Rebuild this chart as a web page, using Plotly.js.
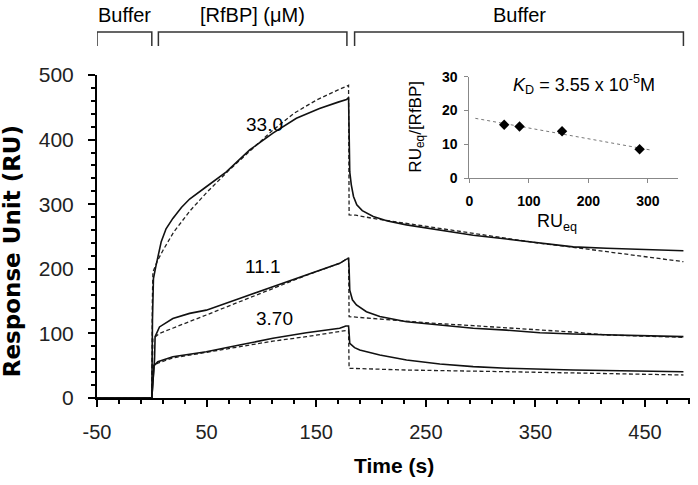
<!DOCTYPE html>
<html>
<head>
<meta charset="utf-8">
<script src="https://cdn.plot.ly/plotly-3.0.1.min.js"></script>
<style>html,body{margin:0;padding:0;background:#fff;}#chart{width:698px;height:485px;}</style>
</head>
<body>
<div id="chart"></div>
<script>
// ---- Sensorgram data (time in s, response in RU) ----
const t33_obs = [-50, 0, 0.6, 1.5, 3.6, 8.6, 13, 19.2, 27, 34.5, 49.7, 68, 89.3, 110.5, 131.9, 153, 170, 177.6, 179.5, 180, 180.6, 182, 184, 187, 192, 202, 215, 232.4, 262.8, 293.2, 323.7, 354, 384.5, 414.9, 445.4, 485];
const v33_obs = [0, 0, 120, 185, 203, 242, 262, 278, 295, 308, 327, 350, 384, 410, 433, 448, 458, 462, 465, 430, 350, 330, 312, 299, 290, 281, 274, 268, 260, 252, 246, 239.5, 234, 231.7, 230, 228];
const t33_fit = [-50, 0, 0.5, 1, 5, 10, 20, 35, 50, 70, 90, 110, 130, 150, 170, 179.5, 180, 186, 201.9, 232.4, 262.8, 293.2, 323.7, 354, 384.5, 414.9, 445.4, 485];
const v33_fit = [0, 0, 150, 195, 212, 228, 257, 290, 318, 352, 383, 414, 441, 461, 477, 484, 283.3, 283, 278, 270.4, 262.7, 255, 247.2, 239.5, 233.3, 226.5, 218.7, 211];

const t11_obs = [-50, 0, 2.5, 3, 7, 19.2, 34.5, 49.7, 80, 110.5, 141, 171.4, 177.6, 179.5, 180, 180.6, 183, 186.7, 195.8, 208, 232.4, 262.8, 293.2, 323.7, 354, 384.5, 414.9, 485];
const v11_obs = [0, 0, 60, 95, 110, 123, 131, 136, 154, 172, 190, 208.5, 215, 216, 200, 167, 152, 144, 133.6, 126, 118, 113, 108, 105, 101, 99, 97.5, 95];
const t11_fit = [-50, 0, 1, 7, 19, 34.5, 49.7, 80, 110.5, 141, 171.4, 179.5, 180, 201.9, 232.4, 262.8, 293.2, 323.7, 354, 384.5, 414.9, 445.4, 485];
const v11_fit = [0, 0, 92, 100, 108, 118, 128.5, 149, 170, 190, 208.5, 217, 126, 123, 119, 115, 112, 109, 106, 102, 97.5, 96, 94];

const t37_obs = [-50, 0, 2, 5.5, 19.2, 49.7, 80, 110.5, 141, 171.4, 177, 179.5, 180, 180.6, 185, 189.7, 208, 232.4, 262.8, 293.2, 323.7, 384.5, 485];
const v37_obs = [0, 0, 50, 56, 64, 71.7, 82, 92.4, 101, 108, 111.5, 111.5, 100, 84.7, 78, 74.3, 66.6, 58.8, 52.6, 48.5, 46, 43.3, 40.7];
const t37_fit = [-50, 0, 1, 5.5, 19.2, 49.7, 80, 110.5, 141, 171.4, 179.5, 180, 232.4, 323.7, 384.5, 485];
const v37_fit = [0, 0, 50, 54, 62, 71, 80, 88, 95, 102.6, 105, 46, 43.3, 40.7, 39.2, 35.6];

// concentration labels (µM)
const concLabels = ["33.0", "11.1", "3.70"];
const concLabelT = [103, 101.4, 112];
const concLabelV = [423, 203, 123];

// x tick labels (hyphen minus as in the original)
const xTickVals = [-50, 50, 150, 250, 350, 450];
const xTickText = ["-50", "50", "150", "250", "350", "450"];

// phases
const phaseNames = ["Buffer", "[RfBP] (\u03bcM)", "Buffer"];
const phaseStart = [-50, 6, 185];
const phaseEnd = [0, 178, 485];

// ---- Scatchard inset ----
const ruEq = [58.5, 84.3, 155.8, 286.2];
const ruEqOverConc = [15.8, 15.3, 13.9, 8.6];
const trendX = [10, 305];
const trendY = [17.7, 8.35];

const FONT = "Liberation Sans, Arial, Helvetica, sans-serif";
const obsLine = {color: "#111", width: 1.6};
const fitLine = {color: "#222", width: 1.3, dash: "4px,2.5px"};

const traces = [];
[[t33_fit, v33_fit, fitLine], [t11_fit, v11_fit, fitLine], [t37_fit, v37_fit, fitLine],
 [t33_obs, v33_obs, obsLine], [t11_obs, v11_obs, obsLine], [t37_obs, v37_obs, obsLine]].forEach(([x, y, ln]) => {
  traces.push({x: x, y: y, type: "scatter", mode: "lines", line: ln, xaxis: "x", yaxis: "y", hoverinfo: "skip", showlegend: false});
});
traces.push({x: trendX, y: trendY, type: "scatter", mode: "lines", line: {color: "#777", width: 1, dash: "dot"}, xaxis: "x2", yaxis: "y2", showlegend: false});
traces.push({x: ruEq, y: ruEqOverConc, type: "scatter", mode: "markers", marker: {symbol: "diamond", size: 8, color: "#000"}, xaxis: "x2", yaxis: "y2", showlegend: false});

const annotations = [];
concLabels.forEach((s, i) => annotations.push({x: concLabelT[i], y: concLabelV[i], xref: "x", yref: "y", text: s, showarrow: false, xanchor: "center", yanchor: "middle", font: {family: FONT, size: 19, color: "#000"}}));
phaseNames.forEach((s, i) => annotations.push({x: (phaseStart[i] + phaseEnd[i]) / 2, y: 1.187, xref: "x", yref: "paper", text: s, showarrow: false, xanchor: "center", yanchor: "middle", font: {family: FONT, size: 20, color: "#000"}}));
annotations.push({x: 0.5, y: -0.21, xref: "paper", yref: "paper", text: "<b>Time (s)</b>", showarrow: false, xanchor: "center", yanchor: "middle", font: {family: FONT, size: 21, color: "#000"}});
annotations.push({x: -0.143, y: 0.455, xref: "paper", yref: "paper", text: "<b>Response Unit (RU)</b>", textangle: -90, showarrow: false, xanchor: "center", yanchor: "middle", font: {family: "DejaVu Sans, Liberation Sans, Arial, sans-serif", size: 23, color: "#000"}});
annotations.push({x: 0.821, y: 0.972, xref: "paper", yref: "paper", text: "<i>K</i><sub>D</sub> = 3.55 x 10<sup>-5</sup>M", showarrow: false, xanchor: "center", yanchor: "middle", font: {family: FONT, size: 18, color: "#000"}});
annotations.push({x: 0.775, y: 0.542, xref: "paper", yref: "paper", text: "RU<sub>eq</sub>", showarrow: false, xanchor: "center", yanchor: "middle", font: {family: FONT, size: 18, color: "#000"}});
annotations.push({x: 0.539, y: 0.839, xref: "paper", yref: "paper", text: "RU<sub>eq</sub>/[RfBP]", textangle: -90, showarrow: false, xanchor: "center", yanchor: "middle", font: {family: FONT, size: 17, color: "#000"}});

const shapes = phaseStart.map((s, i) => ({
  type: "path", xref: "x", yref: "paper",
  path: `M ${s},1.090 L ${s},1.133 L ${phaseEnd[i]},1.133 L ${phaseEnd[i]},1.090`,
  line: {color: "#333", width: 1.5}
}));

const layout = {
  width: 698, height: 485,
  margin: {l: 97, r: 8, t: 75, b: 87, pad: 0},
  paper_bgcolor: "#fff", plot_bgcolor: "rgba(0,0,0,0)",
  font: {family: FONT, color: "#000"},
  showlegend: false,
  xaxis: {
    range: [-50, 491], domain: [0, 1], anchor: "y", tickmode: "array", tickvals: xTickVals, ticktext: xTickText,
    ticks: "outside", ticklen: 7, tickwidth: 2, tickcolor: "#000",
    showline: true, linewidth: 2, linecolor: "#000", showgrid: false, zeroline: false,
    tickfont: {family: FONT, size: 20, color: "#222"}, ticklabelstandoff: 8,
    minor: {dtick: 20, tick0: -50, ticks: "outside", ticklen: 4, tickwidth: 2, tickcolor: "#000", showgrid: false}
  },
  yaxis: {
    range: [0, 500], domain: [0, 1], anchor: "x", tick0: 0, dtick: 100,
    ticks: "outside", ticklen: 7, tickwidth: 2, tickcolor: "#000",
    showline: true, linewidth: 2, linecolor: "#000", showgrid: false, zeroline: false,
    tickfont: {family: FONT, size: 21, color: "#222"}, ticklabelstandoff: 10,
    minor: {dtick: 20, ticks: "outside", ticklen: 4, tickwidth: 2, tickcolor: "#000", showgrid: false}
  },
  xaxis2: {
    range: [0, 350], domain: [0.628, 0.979], anchor: "y2", tick0: 0, dtick: 100,
    ticks: "outside", ticklen: 4, tickwidth: 1, tickcolor: "#888",
    showline: true, linewidth: 1, linecolor: "#888", showgrid: false, zeroline: false,
    tickfont: {family: FONT, size: 14, color: "#000", weight: "bold"}, ticklabelstandoff: 6
  },
  yaxis2: {
    range: [0, 30], domain: [0.680, 0.995], anchor: "x2", tick0: 0, dtick: 10,
    ticks: "outside", ticklen: 4, tickwidth: 1, tickcolor: "#888",
    showline: true, linewidth: 1, linecolor: "#888", showgrid: false, zeroline: false,
    tickfont: {family: FONT, size: 14, color: "#000", weight: "bold"}, ticklabelstandoff: 4
  },
  annotations: annotations,
  shapes: shapes
};

Plotly.newPlot("chart", traces, layout, {displayModeBar: false, staticPlot: true});
</script>
</body>
</html>
